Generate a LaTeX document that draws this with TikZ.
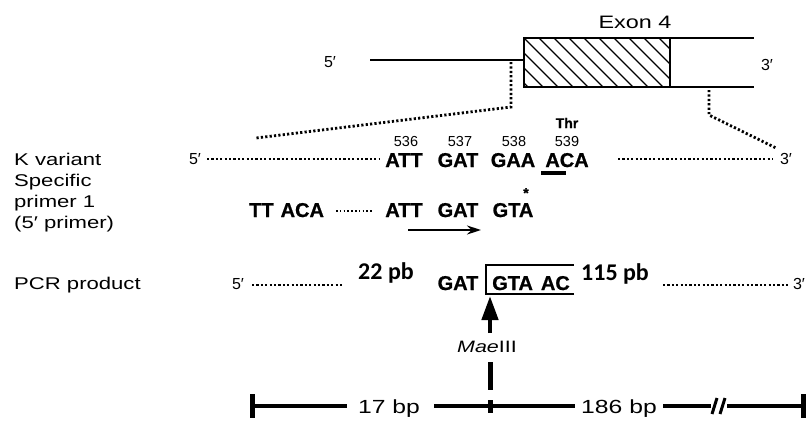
\documentclass[tikz,border=0pt]{standalone}
\usepackage{fontspec}
\setmainfont{Liberation Sans}
\newfontfamily\widesans[FakeStretch=1.3]{Liberation Sans}
\newfontface\seqfont[FakeBold=0.8]{Liberation Sans Bold}
\newfontfamily\calib{Carlito}
\usetikzlibrary{arrows.meta}
\begin{document}
\begin{tikzpicture}[x=1pt,y=-1pt,
  lab/.style={font=\widesans\fontsize{17}{20}\selectfont, inner sep=0pt, anchor=base west},
  seq/.style={font=\seqfont\fontsize{20}{22}\selectfont, inner sep=0pt, anchor=base},
  num/.style={font=\fontsize{14.5}{16}\selectfont, inner sep=0pt, anchor=base},
  prime/.style={font=\fontsize{16}{18}\selectfont, inner sep=0pt, anchor=base},
  bottomlab/.style={font=\widesans\fontsize{19}{21}\selectfont, inner sep=0pt, anchor=base},
  pb/.style={font=\calib\bfseries\fontsize{24}{26}\selectfont, inner sep=0pt, anchor=base},
  dots/.style={line width=2.8pt, dash pattern=on 2.2pt off 2.2pt},
  smalldots/.style={line width=2pt, dash pattern=on 1.6pt off 2.2pt},
  gene/.style={line width=2.4pt},
  scalebar/.style={line width=4pt},
  endbar/.style={line width=5pt}
]
\useasboundingbox (0,0) rectangle (806,421);

% ---------- top: gene with exon 4 ----------
\node[prime] (p5top) at (330,67) {5′};
\coordinate (gl) at (370,60);
\coordinate (exA) at (524,38);
\coordinate (exB) at (670,87);
\coordinate (gr1) at (754,38);
\coordinate (gr2) at (754,87);
\begin{scope}
  \clip (exA) rectangle (exB);
  \foreach \k in {-60,-45,...,150}
    \draw[line width=1.3pt] (524+\k,38) -- (573+\k,87);
\end{scope}
\draw[gene] (gl) -- (524,60);
\draw[gene] (exA) rectangle (exB);
\draw[gene] (670,38) -- (gr1);
\draw[gene] (670,87) -- (gr2);
\node[font=\widesans\fontsize{18}{20}\selectfont, inner sep=0pt, anchor=base] (exon) at (635,28) {Exon 4};
\node[prime] (p3top) at (767,70) {3′};

% ---------- zoom dotted lines ----------
\coordinate (dl1) at (511,62);
\coordinate (dl2) at (511,107);
\coordinate (dl3) at (256,138);
\coordinate (dr1) at (709,90);
\coordinate (dr2) at (709,115);
\coordinate (dr3) at (776,148);
\draw[dots] (dl1) -- (dl2) -- (dl3);
\draw[dots] (dr1) -- (dr2) -- (dr3);

% ---------- left labels ----------
\node[lab] (kvar) at (14,165) {K variant};
\node[lab] (spec1) at (14,186) {Specific};
\node[lab] (spec2) at (14,207) {primer 1};
\node[lab] (spec3) at (14,228) {(5′ primer)};
\node[lab] (pcr) at (14,289) {PCR product};

% ---------- K variant row ----------
\node[prime] (k5) at (195,164) {5′};
\coordinate (kd1) at (207,159);
\coordinate (kd2) at (380,159);
\draw[dots] (kd1) -- (kd2);
\node[num] (n536) at (406,146) {536};
\node[num] (n537) at (460,146) {537};
\node[num] (n538) at (514,146) {538};
\node[num] (n539) at (567,146) {539};
\node[num, font=\seqfont\fontsize{14}{16}\selectfont] (thr) at (567,128) {Thr};
\node[seq] (kATT) at (404,167) {ATT};
\node[seq] (kGAT) at (458,167) {GAT};
\node[seq] (kGAA) at (513,167) {GAA};
\node[seq] (kACA) at (567,167) {ACA};
\coordinate (ul1) at (541,173);
\coordinate (ul2) at (566,173);
\draw[line width=4pt] (ul1) -- (ul2);
\coordinate (kd3) at (618,159);
\coordinate (kd4) at (773,159);
\draw[dots] (kd3) -- (kd4);
\node[prime] (k3) at (786,164) {3′};

% ---------- primer row ----------
\node[seq, anchor=base west] (pTT) at (249,217) {TT\hspace{0.35em}ACA};
\coordinate (pd1) at (336,211);
\coordinate (pd2) at (372,211);
\draw[smalldots] (pd1) -- (pd2);
\node[seq] (pATT) at (404,217) {ATT};
\node[seq] (pGAT) at (458,217) {GAT};
\node[seq] (pGTA) at (513,217) {GTA};
\node[font=\seqfont\fontsize{14}{16}\selectfont, inner sep=0pt] (star) at (526,193) {*};
\coordinate (ar1) at (408,230);
\coordinate (ar2) at (481,230);
\draw[line width=1.8pt, -{Stealth[length=14pt,width=9pt]}] (ar1) -- (ar2);

% ---------- PCR product row ----------
\node[prime] (c5) at (238,289) {5′};
\coordinate (cd1) at (252,285);
\coordinate (cd2) at (342,285);
\draw[dots] (cd1) -- (cd2);
\node[pb] (pb22) at (386,279) {22 pb};
\node[seq] (cGAT) at (458,290) {GAT};
\node[seq, anchor=base west] (cGTA) at (492,290) {GTA\hspace{0.4em}AC};
\coordinate (bx1) at (486,294);
\coordinate (bx2) at (486,265);
\coordinate (bx3) at (574,265);
\coordinate (bx4) at (574,294);
\draw[line width=1.8pt] (bx4) -- (bx1) -- (bx2) -- (bx3);
\node[pb] (pb115) at (615,280) {115 pb};
\coordinate (cd3) at (663,285);
\coordinate (cd4) at (789,285);
\draw[dots] (cd3) -- (cd4);
\node[prime] (c3) at (799,289) {3′};

% ---------- MaeIII site ----------
\coordinate (mA) at (490,333);
\coordinate (mB) at (490,296);
\draw[line width=4.5pt, -{Triangle[length=24pt,width=16pt]}] (mA) -- (mB);
\node[font=\widesans\fontsize{16.5}{18}\selectfont, inner sep=0pt, anchor=base] (mae) at (487,352) {\textit{Mae}III};
\coordinate (mv1) at (490,362);
\coordinate (mv2) at (490,390);
\draw[line width=5pt] (mv1) -- (mv2);

% ---------- bottom scale ----------
\coordinate (s0) at (252,406);
\coordinate (s1) at (347,406);
\coordinate (s2) at (434,406);
\coordinate (s3) at (575,406);
\coordinate (s4) at (663,406);
\coordinate (s5) at (711,406);
\coordinate (s6) at (727,406);
\coordinate (s7) at (803,406);
\draw[scalebar] (s0) -- (s1);
\draw[scalebar] (s2) -- (s3);
\draw[scalebar] (s4) -- (s5);
\draw[scalebar] (s6) -- (s7);
\node[bottomlab] (bp17) at (389,413) {17 bp};
\node[bottomlab] (bp186) at (619,413) {186 bp};
\draw[endbar] (252,394) -- (252,418);
\draw[endbar] (803,394) -- (803,418);
\draw[endbar] (490,400) -- (490,413);
\draw[line width=3pt] (712,414) -- (717,398);
\draw[line width=3pt] (720,414) -- (725,398);
\end{tikzpicture}
\end{document}
